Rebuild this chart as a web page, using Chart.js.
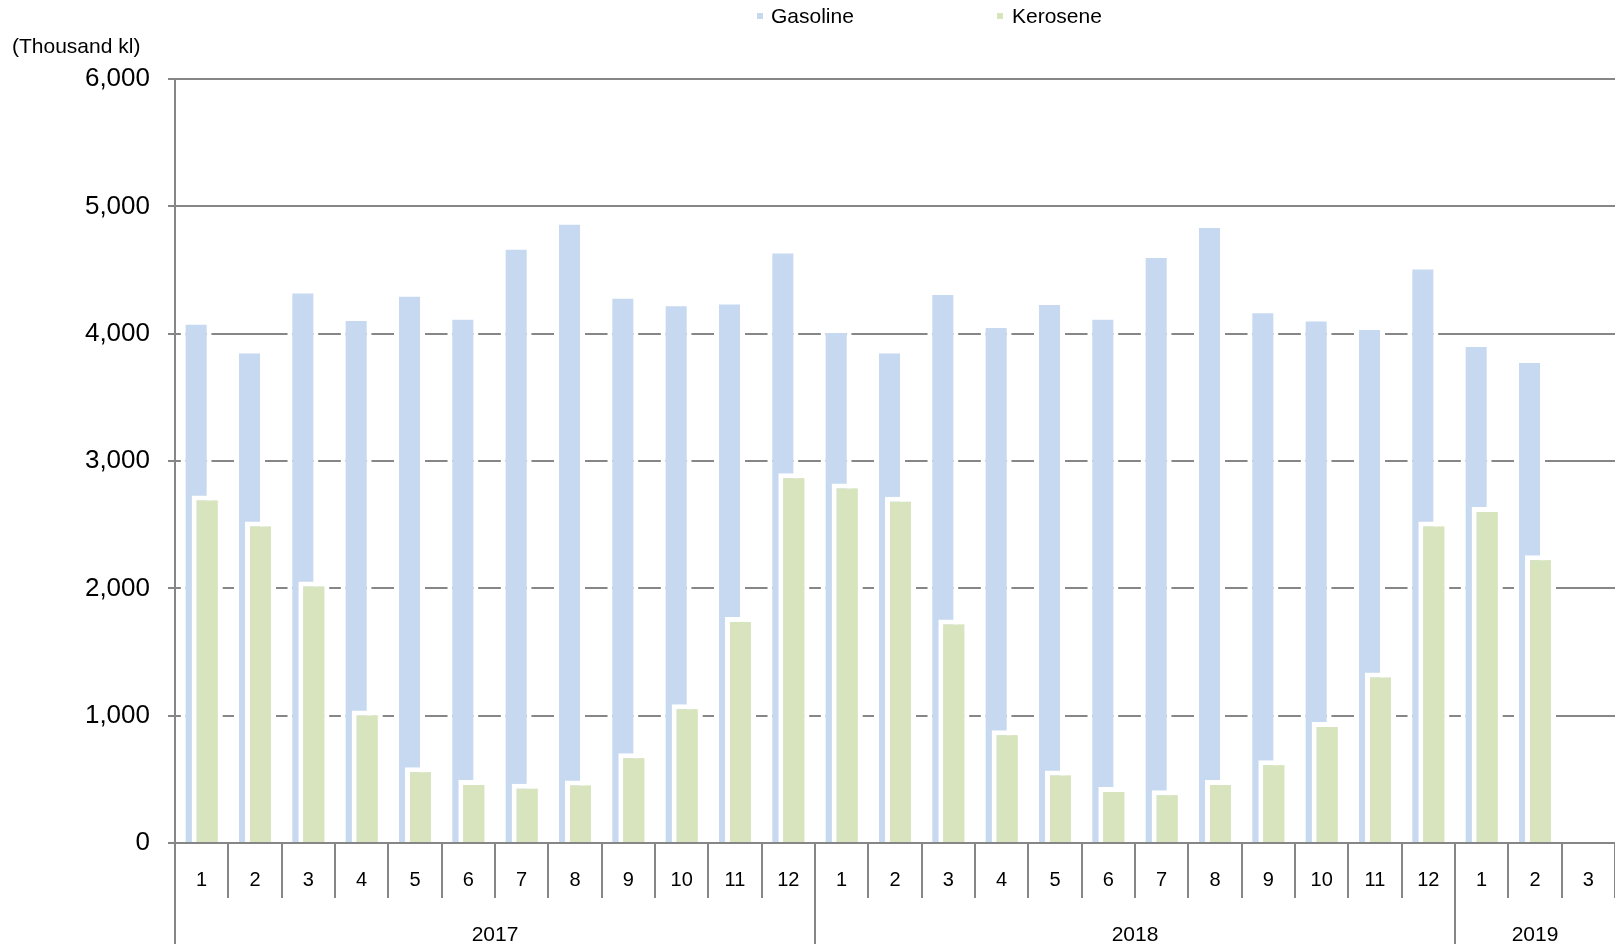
<!DOCTYPE html>
<html>
<head>
<meta charset="utf-8">
<script src="https://cdn.jsdelivr.net/npm/chart.js@4/dist/chart.umd.min.js"></script>
<style>
  body { margin: 0; background: #fff; font-family: 'Liberation Sans', Arial, sans-serif; }
  #wrap { position: relative; width: 1615px; height: 944px; }
  .lg-box { position: absolute; top: 13px; width: 6px; height: 6px; }
  .lg-txt { position: absolute; top: 4px; font-size: 21px; line-height: 24px; color: #000; }
</style>
</head>
<body>
<div id="wrap">
  <canvas id="fuelChart"></canvas>
  <span class="lg-box" style="left:757px; background:#C6D9F1;"></span>
  <span class="lg-txt" style="left:771px;">Gasoline</span>
  <span class="lg-box" style="left:997px; background:#D7E4BD;"></span>
  <span class="lg-txt" style="left:1012px;">Kerosene</span>
</div>
<script>
// DATOS (miles de kl)
const years = ['2017', '2018', '2019'];
const monthsPerYear = [12, 12, 3];
const monthLabels = ['1','2','3','4','5','6','7','8','9','10','11','12',
                     '1','2','3','4','5','6','7','8','9','10','11','12',
                     '1','2','3'];

const gasoline2017 = [4110, 3885, 4355, 4140, 4330, 4150, 4700, 4895, 4315, 4255, 4270, 4670];
const gasoline2018 = [4045, 3885, 4345, 4085, 4265, 4150, 4635, 4870, 4200, 4135, 4070, 4545];
const gasoline2019 = [3935, 3810, null];

const kerosene2017 = [2730, 2525, 2055, 1040, 595, 495, 465, 490, 705, 1090, 1775, 2905];
const kerosene2018 = [2825, 2720, 1755, 885, 570, 440, 415, 495, 650, 950, 1340, 2525];
const kerosene2019 = [2640, 2260, null];

const yTicks = [0, 1000, 2000, 3000, 4000, 5000, 6000];

const gasoline = [...gasoline2017, ...gasoline2018, ...gasoline2019];
const kerosene = [...kerosene2017, ...kerosene2018, ...kerosene2019];

const GRID = '#868686';
const FONT = "'Liberation Sans', Arial, sans-serif";

// kerosene tiene que quedar encima de gasoline
const keroseneOnTop = {
    id: 'keroseneOnTop',
    afterDatasetsDraw(chart) {
        const ctx = chart.ctx;
        const a = chart.chartArea;
        ctx.save();
        ctx.beginPath();
        ctx.rect(a.left, a.top, a.right - a.left, a.bottom - a.top);
        ctx.clip();
        chart.getDatasetMeta(1).data.forEach(el => el.draw(ctx));
        ctx.restore();
    }
};

// segundo nivel del eje: años
const yearAxis = {
    id: 'yearAxis',
    afterDraw(chart) {
        const x = chart.scales.x;
        const ctx = chart.ctx;
        const step = x.getPixelForValue(1) - x.getPixelForValue(0);
        const edge = i => x.getPixelForValue(i) - step / 2;
        ctx.save();
        ctx.strokeStyle = GRID;
        ctx.lineWidth = 2;
        ctx.fillStyle = '#000';
        ctx.font = '21px ' + FONT;
        ctx.textAlign = 'center';
        ctx.textBaseline = 'middle';
        let start = 0;
        years.forEach((yr, k) => {
            const end = start + monthsPerYear[k];
            const x0 = edge(start);
            const x1 = Math.min(edge(end), x.right);
            ctx.beginPath();
            ctx.moveTo(Math.round(x0), x.top);
            ctx.lineTo(Math.round(x0), chart.height);
            ctx.stroke();
            ctx.fillText(yr, (x0 + x1) / 2, 935);
            start = end;
        });
        ctx.restore();
    }
};

const ctx = document.getElementById('fuelChart').getContext('2d');
new Chart(ctx, {
    type: 'bar',
    data: {
        labels: monthLabels,
        datasets: [
            { label: 'Gasoline', data: gasoline, backgroundColor: '#C6D9F1', borderColor: '#FFFFFF', borderWidth: 5 },
            { label: 'Kerosene', data: kerosene, backgroundColor: '#D7E4BD', borderColor: '#FFFFFF', borderWidth: 5 }
        ]
    },
    options: {
        responsive: true,
        maintainAspectRatio: false,
        animation: false,
        events: [],
        datasets: { bar: { categoryPercentage: 0.4125, barPercentage: 2.82 } },
        layout: { padding: { top: 35, left: 12, right: 0, bottom: 0 } },
        plugins: {
            legend: { display: false },
            tooltip: { enabled: false },
            title: {
                display: true,
                text: '(Thousand kl)',
                align: 'start',
                color: '#000',
                font: { family: FONT, size: 21, weight: 'normal', lineHeight: 1.2 },
                padding: { top: 0, bottom: 19 }
            }
        },
        scales: {
            x: {
                grid: { display: true, drawOnChartArea: false, drawTicks: true, tickLength: 55, color: GRID, lineWidth: 2, offset: true },
                border: { display: true, color: GRID, width: 2 },
                ticks: { color: '#000', font: { family: FONT, size: 20 }, padding: -30, maxRotation: 0, autoSkip: false },
                afterFit: s => { s.height = 101; }
            },
            y: {
                min: 0,
                max: 6000,
                afterBuildTicks: s => { s.ticks = yTicks.map(v => ({ value: v })); },
                grid: { color: GRID, lineWidth: 2, tickLength: 7 },
                border: { display: true, color: GRID, width: 2 },
                ticks: {
                    color: '#000',
                    padding: 18,
                    font: { family: FONT, size: 26 },
                    callback: v => v.toLocaleString('en-US')
                },
                afterFit: s => { s.width = 163; }
            }
        }
    },
    plugins: [keroseneOnTop, yearAxis]
});
</script>
</body>
</html>
